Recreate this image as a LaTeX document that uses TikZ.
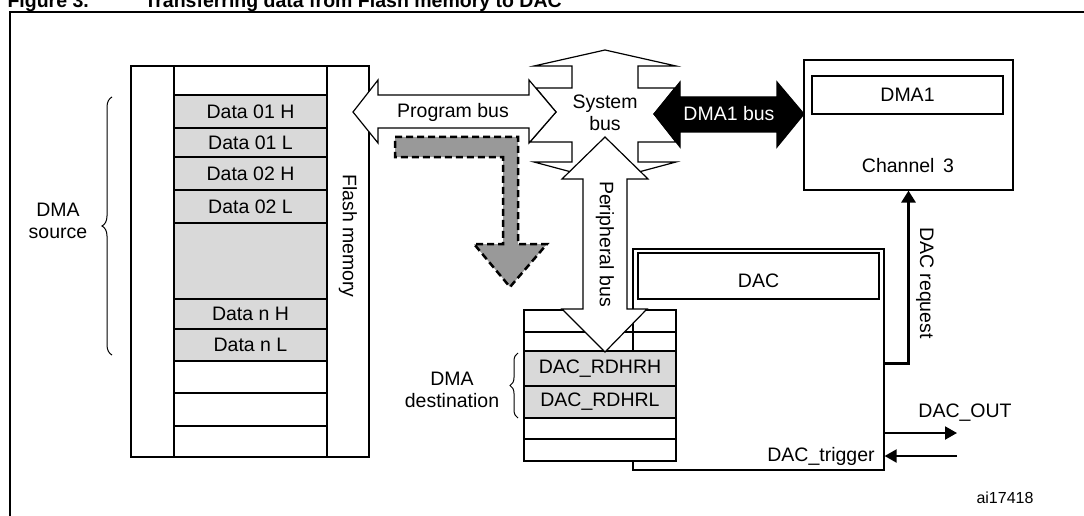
\documentclass[tikz,border=0pt]{standalone}
\usepackage{fontspec}
\setmainfont{Liberation Sans}
\usepackage{tikz}
\usetikzlibrary{positioning, arrows.meta, decorations.pathreplacing}
\definecolor{regfill}{RGB}{217,217,217}
\definecolor{flowgrey}{RGB}{153,153,153}
\newcommand{\lblfont}{\fontsize{19.5}{22}\selectfont}
\newcommand{\titlefont}{\fontsize{19.5}{22}\selectfont\bfseries}
\tikzstyle{box} = [draw, line width=1.2pt, inner sep=0pt]
\tikzstyle{reg} = [box, minimum width=153pt]
\tikzstyle{bus} = [draw, fill=white, line width=1.2pt, line join=miter]
\tikzstyle{sig} = [line width=2pt, -{Triangle[length=12pt,width=13pt]}]
\tikzset{brc/.style={decorate, decoration={brace, amplitude=#1}, line width=1pt}}
\def\progbus{(353,112) -- (378,80) -- (378,95) -- (529,95) -- (529,80) -- (556,112) -- (529,143) -- (529,128) -- (378,128) -- (378,143) -- cycle}
\def\sysbus{(605,50) -- (676,66) -- (638,66) -- (638,88) -- (675,88) -- (654,114) -- (676,142) -- (638,142) -- (638,162) -- (676,162) -- (605,181) -- (534,162) -- (572,162) -- (572,142) -- (530,142) -- (556,112) -- (536,88) -- (572,88) -- (572,66) -- (534,66) -- cycle}
\def\dmabus{(654,114) -- (680,82) -- (680,97) -- (777,97) -- (777,82) -- (804,114) -- (777,147) -- (777,132) -- (680,132) -- (680,147) -- cycle}
\def\perbus{(605,137) -- (648,179) -- (627,179) -- (627,309) -- (647,309) -- (605,352) -- (562,309) -- (583,309) -- (583,179) -- (562,179) -- cycle}
\def\flowpath{(395,137) -- (518,137) -- (518,244) -- (547,244) -- (510,287) -- (474,244) -- (503,244) -- (503,157) -- (395,157) -- cycle}

\begin{document}
\begin{tikzpicture}[x=1pt, y=-1pt, every node/.style={font=\lblfont}]
    \useasboundingbox (0,0) rectangle (1084,516);

    % frame and title, both cut by the page edge
    \draw[line width=2.5pt] (1090,12) -- (10,12) -- (10,522);
    \node[anchor=base west, font=\titlefont] (figno) at (4,7.5) {Figure 3.};
    \node[anchor=base west, font=\titlefont] (title) at (141,7.5) {Transferring data from Flash memory to DAC};

    % Flash memory
    \node[box, minimum width=238pt, minimum height=391pt] (flash) at (250,261.5) {};
    \node[reg, minimum height=29pt] (f0) at (250.5,80.5) {};
    \node[reg, fill=regfill, minimum height=33pt] (d1h) at (250.5,111.5) {Data 01 H};
    \node[reg, fill=regfill, minimum height=29pt] (d1l) at (250.5,142.5) {Data 01 L};
    \node[reg, fill=regfill, minimum height=33pt] (d2h) at (250.5,173.5) {Data 02 H};
    \node[reg, fill=regfill, minimum height=33pt] (d2l) at (250.5,206.5) {Data 02 L};
    \node[reg, fill=regfill, minimum height=76pt] (dgap) at (250.5,261) {};
    \node[reg, fill=regfill, minimum height=30pt] (dnh) at (250.5,314) {Data n H};
    \node[reg, fill=regfill, minimum height=32pt] (dnl) at (250.5,345) {Data n L};
    \node[reg, minimum height=32pt] (f1) at (250.5,377) {};
    \node[reg, minimum height=33pt] (f2) at (250.5,409.5) {};
    \node[reg, minimum height=31pt] (f3) at (250.5,441.5) {};
    \node[rotate=-90] (flashlbl) at (348,236) {Flash memory};

    \coordinate (srctop) at (112,97);
    \coordinate (srcbot) at (112,355);
    \draw[brc=10pt] (srcbot) -- (srctop);
    \node[align=center] (dmasrc) at (58,221) {DMA\\source};

    % transfer path
    \draw[fill=flowgrey, line width=2.5pt, dash pattern=on 7pt off 4pt, line join=miter] \flowpath;

    % buses
    \draw[bus] \sysbus;
    \draw[bus] \progbus;
    \draw[bus, fill=black] \dmabus;
    \node[align=center] (sysbus) at (605,113) {System\\bus};
    \node (progbus) at (453,112) {Program bus};
    \node[text=white] (dmabuslbl) at (729,114) {DMA1 bus};

    % DMA1
    \node[box, minimum width=209pt, minimum height=130pt] (dma) at (908.5,125) {};
    \node[box, minimum width=191pt, minimum height=38pt] (dmalbl) at (907.5,95) {DMA1};
    \node (chan) at (908,166) {Channel\, 3};

    % DAC
    \node[box, minimum width=251pt, minimum height=221pt] (dac) at (758.5,359.5) {};
    \node[box, minimum width=241pt, minimum height=46pt] (daclbl) at (758.5,276) {};
    \node (dactxt) at (758.5,281) {DAC};
    \node[reg, minimum width=152pt, minimum height=22pt] (r0) at (600,321) {};
    \node[reg, minimum width=152pt, minimum height=19pt] (r1) at (600,341.5) {};
    \node[reg, fill=regfill, minimum width=152pt, minimum height=35pt] (rdhrh) at (600,368.5) {DAC\_RDHRH};
    \node[reg, fill=regfill, minimum width=152pt, minimum height=32pt] (rdhrl) at (600,402) {DAC\_RDHRL};
    \node[reg, fill=white, minimum width=152pt, minimum height=21pt] (r2) at (600,428.5) {};
    \node[reg, fill=white, minimum width=152pt, minimum height=22pt] (r3) at (600,450) {};

    \coordinate (dsttop) at (518,353);
    \coordinate (dstbot) at (518,418);
    \draw[brc=8pt] (dstbot) -- (dsttop);
    \node[align=center] (dmadst) at (452,390) {DMA\\destination};

    \draw[bus] \perbus;
    \node[rotate=-90] (perbus) at (605,244) {Peripheral bus};

    % signals
    \draw[line width=3pt, -{Triangle[length=12pt,width=14pt]}] ([yshift=-3.5pt]dac.east) -| (dma.south);
    \node[rotate=-90] (reqlbl) at (925,283) {DAC request};

    \coordinate (outend) at (957,433);
    \coordinate (trigin) at (957,456);
    \draw[sig] ([yshift=-73.5pt]dac.east) -- (outend);
    \draw[sig] (trigin) -- ([yshift=-96.5pt]dac.east);
    \node (outlbl) at (965,413) {DAC\_OUT};
    \node (triglbl) at (821,456) {DAC\_trigger};

    \node[font=\fontsize{16}{18}\selectfont] (ref) at (1005,498) {ai17418};
\end{tikzpicture}
\end{document}
